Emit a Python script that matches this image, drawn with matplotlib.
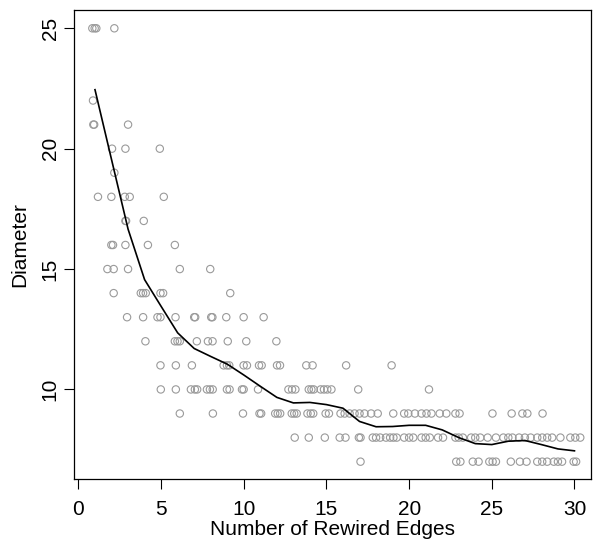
import numpy as np
import matplotlib
matplotlib.use("Agg")
import matplotlib.pyplot as plt

plt.rcParams['font.family'] = ['Liberation Sans', 'DejaVu Sans']

# jittered x positions of the observations, grouped by diameter value
rows = {
    25: [0.84, 0.98, 1.08, 2.17],
    22: [0.88],
    21: [0.90, 0.95, 3.00],
    20: [2.03, 2.84, 4.92],
    19: [2.17],
    18: [1.18, 1.99, 2.80, 3.10, 5.16],
    17: [2.84, 2.88, 3.95],
    16: [1.99, 2.09, 2.84, 4.20, 5.83],
    15: [1.75, 2.13, 3.00, 6.13, 7.97],
    14: [2.13, 3.77, 3.91, 4.07, 4.96, 5.12, 9.18],
    13: [2.94, 3.91, 4.78, 4.96, 5.87, 7.00, 7.06, 8.03, 8.10, 8.94, 9.99, 11.20],
    12: [4.05, 5.83, 5.99, 6.13, 7.16, 7.83, 8.11, 9.03, 10.15, 11.97],
    11: [4.96, 5.89, 6.86, 8.78, 8.98, 9.12, 9.99, 10.19, 10.92, 11.08,
         12.01, 12.19, 13.78, 14.16, 16.19, 18.94],
    10: [4.98, 5.89, 6.80, 7.04, 7.18, 7.77, 7.95, 8.12, 8.98, 9.14, 9.89,
         9.99, 10.86, 12.70, 12.92, 13.12, 13.93, 14.09, 14.23, 14.65, 14.85,
         15.05, 15.30, 16.92, 21.20],
    9: [6.13, 8.13, 9.95, 10.95, 11.05, 11.90, 12.05, 12.20, 12.90, 13.05,
        13.20, 13.85, 14.05, 14.20, 14.95, 15.15, 15.85, 16.10, 16.40, 16.70,
        17.00, 17.30, 17.70, 18.10, 19.04, 19.70, 19.95, 20.35, 20.75, 21.05,
        21.35, 21.85, 22.25, 22.80, 23.05, 25.04, 26.20, 26.85, 27.15, 28.07],
    8: [13.08, 13.93, 14.90, 15.80, 16.15, 16.96, 17.06, 17.80, 18.00, 18.25,
        18.60, 18.85, 19.05, 19.25, 19.70, 20.00, 20.25, 20.75, 21.00, 21.25,
        21.75, 22.05, 22.80, 23.00, 23.25, 23.75, 24.00, 24.30, 24.75, 25.25,
        25.70, 26.00, 26.25, 26.65, 27.00, 27.35, 27.75, 28.05, 28.35, 28.65,
        29.15, 29.75, 30.05, 30.35],
    7: [17.06, 22.85, 23.10, 23.85, 24.20, 24.85, 25.05, 25.25, 26.15, 26.70,
        27.10, 27.75, 28.05, 28.35, 28.75, 29.00, 29.25, 29.95, 30.10],
}

# smoothed trend
smooth_x = list(range(1, 31))
smooth_y = [22.45, 19.55, 16.66, 14.56, 13.45, 12.35, 11.70, 11.37, 11.05, 10.60,
            10.13, 9.67, 9.44, 9.46, 9.37, 9.22, 8.67, 8.45, 8.46, 8.51,
            8.51, 8.32, 8.00, 7.75, 7.71, 7.85, 7.88, 7.71, 7.53, 7.45]

xs = np.concatenate([np.array(v) for v in rows.values()])
ys = np.concatenate([np.full(len(v), k) for k, v in rows.items()])

W, H = 595, 540
fig = plt.figure(figsize=(W / 100, H / 100), dpi=100)
left, right, top, bottom = 73.5, 591, 10, 479
ax = fig.add_axes([left / W, 1 - bottom / H, (right - left) / W, (bottom - top) / H])

ax.scatter(xs, ys, s=28, facecolors='none', edgecolors='#9a9a9a', linewidths=0.8)
ax.plot(smooth_x, smooth_y, color='black', linewidth=1.2)

ax.set_xlim(-0.3, 31.0)
ax.set_ylim(6.28, 25.76)
ax.set_xticks([0, 5, 10, 15, 20, 25, 30])
ax.set_yticks([10, 15, 20, 25])
ax.tick_params(direction='out', length=7, width=0.8, labelsize=15)
ax.tick_params(axis='x', pad=8)
ax.tick_params(axis='y', pad=3)
for lab in ax.get_yticklabels():
    lab.set_rotation(90)
    lab.set_va('center')
for s in ax.spines.values():
    s.set_linewidth(0.9)

ax.set_xlabel('Number of Rewired Edges', fontsize=15, labelpad=1)
ax.set_ylabel('Diameter', fontsize=15, labelpad=8)

fig.savefig('out.png', dpi=100)
